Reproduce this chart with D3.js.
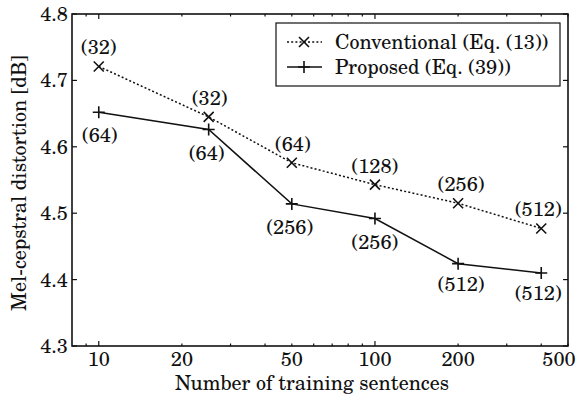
<!DOCTYPE html>
<html>
<head>
<meta charset="utf-8">
<script src="https://cdn.jsdelivr.net/npm/d3@7"></script>
<style>
  html, body { margin: 0; padding: 0; background: #fff; }
  svg text { font-family: "TeX Gyre Schola", "Century Schoolbook L", "DejaVu Serif", serif; fill: #111; }
</style>
</head>
<body>
<svg id="chart" width="583" height="403"></svg>
<script>
// Training-set sizes (number of sentences)
const sentences = [10, 25, 50, 100, 200, 400];
// Mel-cepstral distortion [dB]
const conventional = [4.721, 4.645, 4.576, 4.543, 4.515, 4.477];
const proposed = [4.652, 4.626, 4.514, 4.492, 4.424, 4.410];
// Number of mixtures used at each point
const convMix = ["(32)", "(32)", "(64)", "(128)", "(256)", "(512)"];
const propMix = ["(64)", "(64)", "(256)", "(256)", "(512)", "(512)"];
// Axis ticks
const xLabelTicks = [10, 20, 50, 100, 200, 500];
const xMajorTicks = [10, 100];
const xMinorTicks = [9, 20, 30, 40, 50, 60, 70, 80, 90, 200, 300, 400, 500];
const yTicks = [4.3, 4.4, 4.5, 4.6, 4.7, 4.8];
const seriesNames = ["Conventional (Eq. (13))", "Proposed (Eq. (39))"];

const svg = d3.select("#chart");
const L = 72, R = 568, T = 14, B = 346;
const x = d3.scaleLog().domain([8, 500]).range([L, R]);
const y = d3.scaleLinear().domain([4.3, 4.8]).range([B, T]);
const FS = 20;
const ink = "#111";

// Tick marks on all four sides, pointing inward
const ticks = svg.append("g").attr("stroke", ink).attr("stroke-width", 1.2);
xMajorTicks.forEach(v => {
  ticks.append("line").attr("x1", x(v)).attr("x2", x(v)).attr("y1", B).attr("y2", B - 5);
  ticks.append("line").attr("x1", x(v)).attr("x2", x(v)).attr("y1", T).attr("y2", T + 5);
});
xMinorTicks.forEach(v => {
  ticks.append("line").attr("x1", x(v)).attr("x2", x(v)).attr("y1", B).attr("y2", B - 2.5);
  ticks.append("line").attr("x1", x(v)).attr("x2", x(v)).attr("y1", T).attr("y2", T + 2.5);
});
yTicks.forEach(v => {
  ticks.append("line").attr("x1", L).attr("x2", L + 5).attr("y1", y(v)).attr("y2", y(v));
  ticks.append("line").attr("x1", R).attr("x2", R - 5).attr("y1", y(v)).attr("y2", y(v));
});

// Frame
svg.append("rect").attr("x", L).attr("y", T).attr("width", R - L).attr("height", B - T)
  .attr("fill", "none").attr("stroke", ink).attr("stroke-width", 1.6);

// Tick labels
svg.append("g").selectAll("text").data(xLabelTicks).join("text")
  .attr("x", d => d === 500 ? x(d) - 9 : x(d))
  .attr("y", B + 20)
  .attr("text-anchor", "middle")
  .attr("font-size", FS)
  .text(d => d);
svg.append("g").selectAll("text").data(yTicks).join("text")
  .attr("x", L - 4).attr("y", d => y(d)).attr("dy", "0.35em")
  .attr("text-anchor", "end").attr("font-size", FS)
  .text(d => d.toFixed(1));

// Axis titles
svg.append("text").attr("x", 312).attr("y", 390).attr("text-anchor", "middle")
  .attr("font-size", FS).text("Number of training sentences");
svg.append("text").attr("transform", `translate(19,183) rotate(-90)`)
  .attr("text-anchor", "middle").attr("dy", "0.35em").attr("font-size", FS)
  .text("Mel-cepstral distortion [dB]");

const convPts = sentences.map((s, i) => [x(s), y(conventional[i])]);
const propPts = sentences.map((s, i) => [x(s), y(proposed[i])]);
const line = d3.line();

// Series lines
svg.append("path").attr("d", line(convPts)).attr("fill", "none")
  .attr("stroke", ink).attr("stroke-width", 1.5).attr("stroke-dasharray", "2,2.2");
svg.append("path").attr("d", line(propPts)).attr("fill", "none")
  .attr("stroke", ink).attr("stroke-width", 1.5);

// Marker shapes
function cross(g, cx, cy) {
  const s = 5;
  g.append("path").attr("d", `M${cx - s},${cy - s}L${cx + s},${cy + s}M${cx - s},${cy + s}L${cx + s},${cy - s}`)
    .attr("stroke", ink).attr("stroke-width", 1.6).attr("fill", "none");
}
function plus(g, cx, cy) {
  const s = 6;
  g.append("path").attr("d", `M${cx - s},${cy}L${cx + s},${cy}M${cx},${cy - s}L${cx},${cy + s}`)
    .attr("stroke", ink).attr("stroke-width", 1.6).attr("fill", "none");
}
const marks = svg.append("g");
convPts.forEach(p => cross(marks, p[0], p[1]));
propPts.forEach(p => plus(marks, p[0], p[1]));

// Mixture-count annotations
const convDx = [0, 1, 1, 0, 3, -3];
const propDx = [1, -2, -2, 0, 3, -3];
svg.append("g").selectAll("text").data(convPts).join("text")
  .attr("x", (d, i) => d[0] + convDx[i]).attr("y", d => d[1] - 19).attr("dy", "0.35em")
  .attr("text-anchor", "middle").attr("font-size", FS)
  .text((d, i) => convMix[i]);
svg.append("g").selectAll("text").data(propPts).join("text")
  .attr("x", (d, i) => d[0] + propDx[i]).attr("y", (d, i) => d[1] + (i >= 4 ? 20 : 23)).attr("dy", "0.35em")
  .attr("text-anchor", "middle").attr("font-size", FS)
  .text((d, i) => propMix[i]);

// Legend
const lg = svg.append("g");
lg.append("rect").attr("x", 276).attr("y", 23).attr("width", 284).attr("height", 63)
  .attr("fill", "#fff").attr("stroke", ink).attr("stroke-width", 1.2);
const rows = [42, 67];
lg.append("line").attr("x1", 287).attr("x2", 322).attr("y1", rows[0]).attr("y2", rows[0])
  .attr("stroke", ink).attr("stroke-width", 1.5).attr("stroke-dasharray", "2,2.2");
cross(lg, 304, rows[0]);
lg.append("line").attr("x1", 287).attr("x2", 322).attr("y1", rows[1]).attr("y2", rows[1])
  .attr("stroke", ink).attr("stroke-width", 1.5);
plus(lg, 304, rows[1]);
lg.selectAll("text.lab").data(seriesNames).join("text")
  .attr("x", 335).attr("y", (d, i) => rows[i]).attr("dy", "0.35em")
  .attr("font-size", FS).text(d => d);
</script>
</body>
</html>
